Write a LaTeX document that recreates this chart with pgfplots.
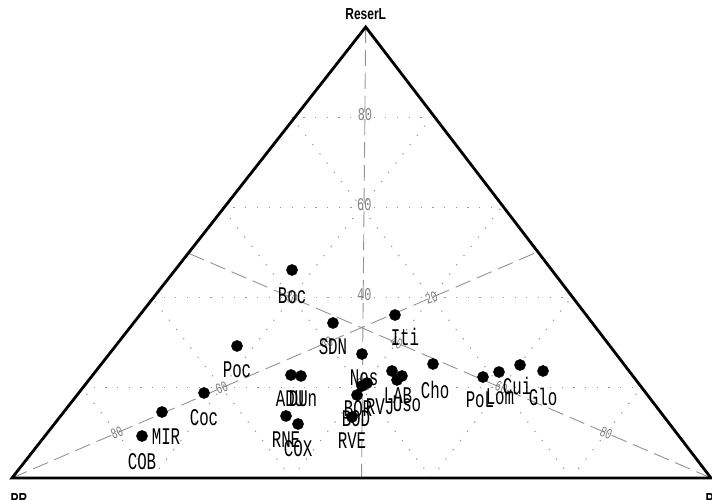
\documentclass[border=0pt]{standalone}
\usepackage{pgfplots}
\pgfplotsset{compat=1.18}
\usepackage{pgfplotstable}
\usepackage{fontspec}
\setmainfont{Liberation Sans}
\newfontfamily\labfont[FakeStretch=0.66]{Liberation Mono}
\newfontfamily\hdfont[FakeStretch=0.75]{Liberation Sans}
\tikzset{
  gridl/.style={gray!80, line width=1.1bp, dash pattern=on 1.2bp off 10.5bp},
  medl/.style={gray!85, line width=0.9bp, dash pattern=on 16bp off 7bp},
  ml/.style={gray, font=\labfont\fontsize{15}{15}\selectfont},
  vl/.style={gray, font=\labfont\fontsize{18}{18}\selectfont, yshift=3bp},
}

% x = position along the base (% of base width), y = ReserL (%)
\pgfplotstableread{
x     y
40.06 46.12
45.92 34.37
54.79 36.14
50.07 27.49
32.19 29.27
39.91 22.84
41.34 22.62
60.23 25.28
54.36 23.73
55.79 22.62
55.08 21.73
50.07 20.40
50.79 21.06
49.36 18.40
48.64 13.53
39.20 13.75
40.92 11.97
27.47 18.85
21.46 14.63
18.60 9.31
67.38 22.39
69.67 23.50
72.68 25.06
75.97 23.73
}\pts
% label positions
\pgfplotstableread{
lx    ly    name
40.06 40.35 Boc
45.92 29.05 SDN
56.22 31.26 Iti
50.36 22.17 Nos
32.19 23.95 Poc
39.77 17.52 ADU
41.63 17.52 DUn
60.52 19.51 Cho
55.22 18.18 LAB
56.51 16.41 Uso
52.65 15.74 RVJ
49.50 15.30 BOR
49.21 13.08 BOD
48.64 8.20  RVE
39.20 8.43  RNE
40.92 6.43  COX
27.47 13.30 Coc
22.03 9.09  MIR
18.60 3.55  COB
66.95 17.29 PoL
69.81 17.96 Lom
72.25 20.40 Cui
75.97 17.96 Glo
}\labs

\begin{document}
\begin{tikzpicture}
\useasboundingbox (0,0) rectangle (712bp,500bp);
\begin{axis}[
  at={(12bp,22bp)}, anchor=south west,
  scale only axis, width=699bp, height=451bp,
  xmin=0, xmax=100, ymin=0, ymax=100,
  hide axis, clip=false,
]
% dotted grid
\addplot[gridl] coordinates {(10,20) (90,20)};
\addplot[gridl] coordinates {(20,40) (80,40)};
\addplot[gridl] coordinates {(30,60) (70,60)};
\addplot[gridl] coordinates {(40,80) (60,80)};
\addplot[gridl] coordinates {(20,0) (60,80)};
\addplot[gridl] coordinates {(40,0) (70,60)};
\addplot[gridl] coordinates {(60,0) (80,40)};
\addplot[gridl] coordinates {(80,0) (90,20)};
\addplot[gridl] coordinates {(80,0) (40,80)};
\addplot[gridl] coordinates {(60,0) (30,60)};
\addplot[gridl] coordinates {(40,0) (20,40)};
\addplot[gridl] coordinates {(20,0) (10,20)};
% dashed medians
\addplot[medl] coordinates {(50.6,100) (50,0)};
\addplot[medl] coordinates {(0,0) (75,50)};
\addplot[medl] coordinates {(100,0) (25,50)};
% median labels
\node[vl] at (axis cs:50.3,20) {20};
\node[vl] at (axis cs:50.4,40) {40};
\node[vl] at (axis cs:50.4,60) {60};
\node[vl] at (axis cs:50.5,80) {80};
\node[ml, rotate=23.3] at (axis cs:15,10) {80};
\node[ml, rotate=23.3] at (axis cs:30,20) {60};
\node[ml, rotate=23.3] at (axis cs:45,30) {40};
\node[ml, rotate=23.3] at (axis cs:60,40) {20};
\node[ml, rotate=-23.3] at (axis cs:85,10) {80};
\node[ml, rotate=-23.3] at (axis cs:70,20) {60};
\node[ml, rotate=-23.3] at (axis cs:55,30) {40};
\node[ml, rotate=-23.3] at (axis cs:40,40) {20};
% triangle
\addplot[black, line width=2.8bp, line join=miter] coordinates {(0,0) (100,0) (50.6,100)} -- cycle;
% point labels
\addplot[draw=none, mark=none, nodes near coords, point meta=explicit symbolic,
  nodes near coords style={anchor=center, inner sep=0pt, black,
    font=\labfont\fontsize{24}{24}\selectfont}]
  table[x=lx, y=ly, meta=name] {\labs};
% points
\addplot[only marks, mark=*, mark size=5.6bp, black] table[x=x, y=y] {\pts};
% vertex label
\node[font=\hdfont\bfseries\fontsize{16}{16}\selectfont, anchor=south, yshift=4bp] at (axis cs:50.6,100) {ReserL};
\end{axis}
\node[font=\hdfont\bfseries\fontsize{16}{16}\selectfont, anchor=north] at (19bp,10bp) {PR};
\node[font=\hdfont\bfseries\fontsize{16}{16}\selectfont, anchor=north west] at (702bp,10bp) {PC};
\end{tikzpicture}
\end{document}
